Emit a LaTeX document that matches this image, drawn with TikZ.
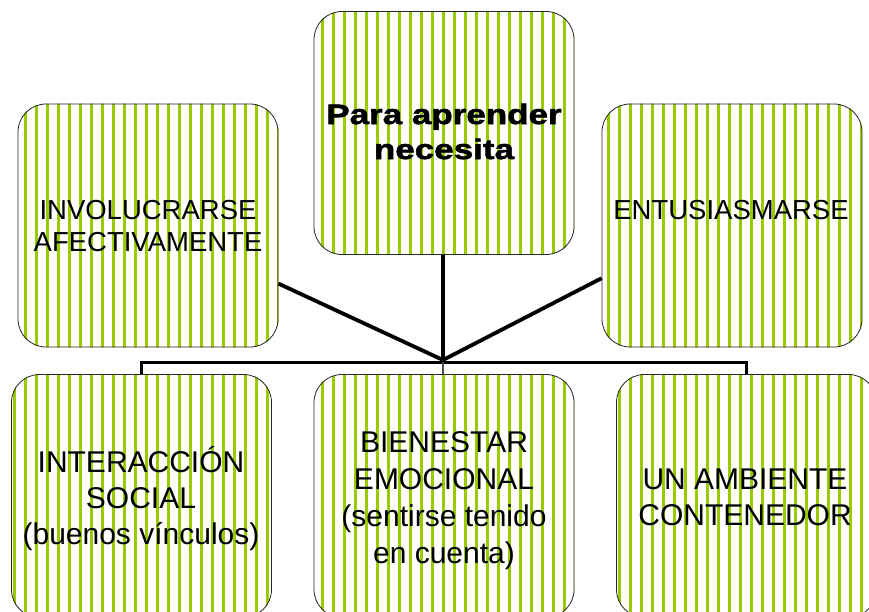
\documentclass[tikz,border=0pt]{standalone}
\usepackage{fontspec}
\setmainfont{Liberation Sans}
\newfontfamily\heavyfont{Liberation Sans}[BoldFeatures={FakeBold=2,FakeStretch=1.25}]
\usetikzlibrary{backgrounds}
\definecolor{stripegreen}{RGB}{153,204,0}
\tikzset{
  box/.style={draw=black!85, line width=0.8pt, rounded corners=28pt,
    minimum width=260pt, minimum height=243pt, inner sep=0pt},
  stripe/.style={draw=stripegreen, line width=3.4pt},
  txtS/.style={font=\fontsize{27.5}{32}\selectfont, align=center, inner sep=0pt},
  txtL/.style={font=\fontsize{30}{36}\selectfont, align=center, inner sep=0pt},
  txtT/.style={font=\heavyfont\bfseries\fontsize{28}{35}\selectfont, align=center, inner sep=0pt},
  thick link/.style={draw=black, line width=3.8pt},
  bus link/.style={draw=black, line width=3pt},
  stub link/.style={draw=black!70, line width=1.6pt}
}
\begin{document}
\begin{tikzpicture}[x=1pt,y=-1pt]
\useasboundingbox (0,0) rectangle (869,611);
\clip (0,0) rectangle (869,611);
% boxes
\node[box] (tc) at (444,133) {};
\node[box] (tl) at (148,225.5) {};
\node[box] (tr) at (732,225.5) {};
\node[box] (bl) at (141.5,496) {};
\node[box] (bc) at (444,496) {};
\node[box] (br) at (746.5,496) {};
% stripes
\begin{scope}[on background layer]
\foreach \n in {tc,tl,tr,bl,bc,br}{
  \begin{scope}
    \clip[rounded corners=28pt] (\n.south west) rectangle (\n.north east);
    \foreach \x in {3.5,14.5,...,872} \draw[stripe] (\x,0) -- (\x,620);
  \end{scope}
}
\end{scope}
% texts
\node[txtT] (tctext) at (444,131.5) {Para aprender\\necesita};
\node[txtS] (tltext) at (148,226.5) {INVOLUCRARSE\\AFECTIVAMENTE};
\node[txtS] (trtext) at (731,210) {ENTUSIASMARSE};
\node[txtL] (bltext) at (141,498.5) {INTERACCIÓN\\SOCIAL\\(buenos vínculos)};
\node[txtL, font=\fontsize{30}{37}\selectfont] (bctext) at (444,501) {BIENESTAR\\EMOCIONAL\\(sentirse tenido\\en cuenta)};
\node[txtL] (brtext) at (745,497.5) {UN AMBIENTE\\CONTENEDOR};
% connectors
\coordinate (hub) at (443,360);
\coordinate (bus) at (443,362);
\draw[thick link] (tc.south -| hub) -- (hub);
\draw[thick link] (tl.-24.2) -- (hub);
\draw[thick link] (tr.-158.4) -- (hub);
\draw[bus link] (bl.north) |- (bus) -| (br.north);
\draw[stub link] (bus) -- (bc.north -| bus);
\end{tikzpicture}
\end{document}
